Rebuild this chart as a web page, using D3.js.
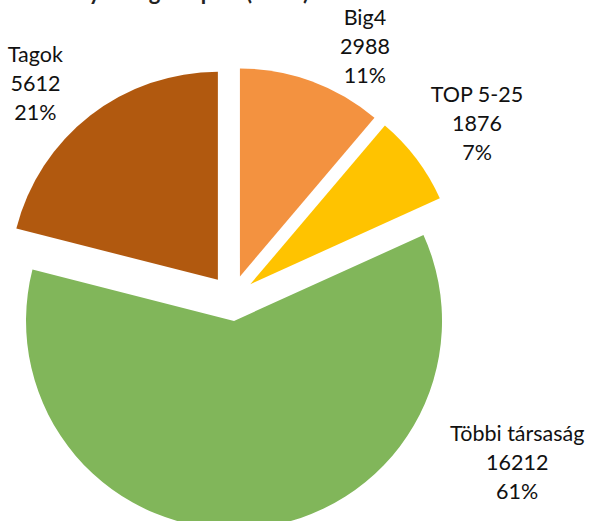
<!DOCTYPE html>
<html>
<head>
<meta charset="utf-8">
<script src="https://cdn.jsdelivr.net/npm/d3@7"></script>
<style>
  body { margin: 0; background: #fff; }
  svg { display: block; font-family: Lato, "Open Sans", sans-serif; }
</style>
</head>
<body>
<svg id="chart"></svg>
<script>
// data
const categories = ["Big4", "TOP 5-25", "Többi társaság", "Tagok"];
const values = [2988, 1876, 16212, 5612];
const percentLabels = ["11%", "7%", "61%", "21%"];
const colors = ["#F39240", "#FFC300", "#81B65A", "#B1590F"];

// label anchors (angle in degrees from 12 o'clock, distance from centre)
const labelAnchors = [
    { angle: 27.8, dist: 285 },
    { angle: 54.5, dist: 301 },
    { angle: 119.9, dist: 329 },
    { angle: -42.5, dist: 291 }
];

const width = 590, height = 521;
const cx = 232, cy = 298, radius = 208, explode = 23;

const svg = d3.select("#chart")
    .attr("width", width)
    .attr("height", height);

// title (clipped off the top like in the original)
svg.append("text")
    .attr("x", 309)
    .attr("y", -0.5)
    .attr("text-anchor", "end")
    .attr("font-size", 22)
    .attr("font-weight", "bold")
    .attr("fill", "#222")
    .text("Könyvvizsgálói piac (2017)");

const pie = d3.pie().sort(null).value(d => d)(values);
const arc = d3.arc().innerRadius(0).outerRadius(radius);

const g = svg.append("g").attr("transform", `translate(${cx},${cy})`);

g.selectAll("path")
    .data(pie)
    .enter()
    .append("path")
    .attr("d", arc)
    .attr("fill", (d, i) => colors[i])
    .attr("transform", d => {
        const mid = (d.startAngle + d.endAngle) / 2;
        return `translate(${explode * Math.sin(mid)},${-explode * Math.cos(mid)})`;
    });

const labels = g.selectAll("text.lbl")
    .data(pie)
    .enter()
    .append("text")
    .attr("class", "lbl")
    .attr("text-anchor", "middle")
    .attr("font-size", 21.5)
    .attr("fill", "#111")
    .attr("transform", (d, i) => {
        const a = labelAnchors[i].angle * Math.PI / 180;
        const r = labelAnchors[i].dist;
        return `translate(${r * Math.sin(a)},${-r * Math.cos(a)})`;
    });

labels.each(function(d, i) {
    const t = d3.select(this);
    const lines = [categories[i], String(values[i]), percentLabels[i]];
    lines.forEach((s, j) => {
        t.append("tspan")
            .attr("x", 0)
            .attr("y", (j - 1) * 29 + 8)
            .text(s);
    });
});
</script>
</body>
</html>
